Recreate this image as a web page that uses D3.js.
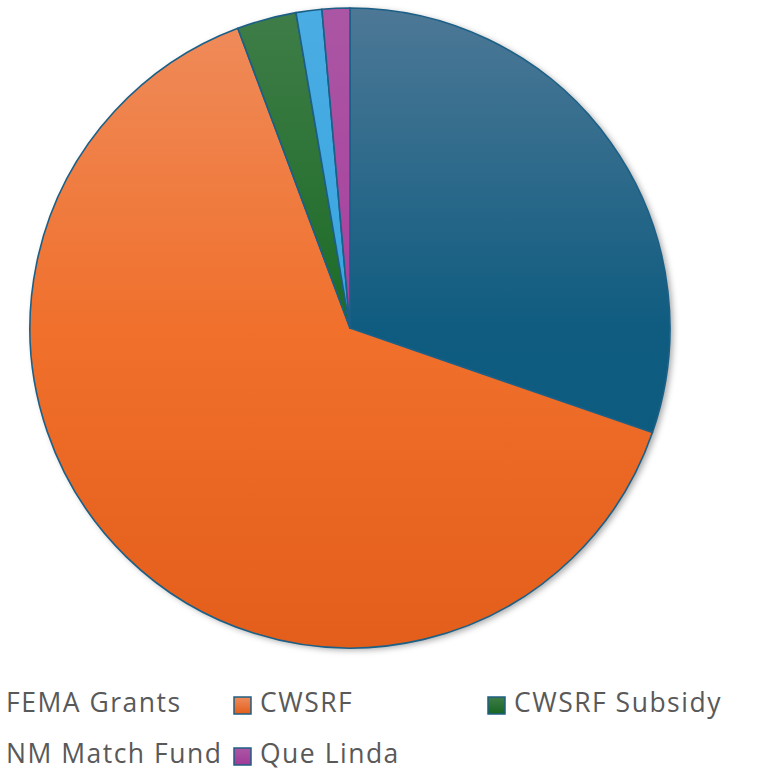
<!DOCTYPE html>
<html><head><meta charset="utf-8">
<script src="https://cdn.jsdelivr.net/npm/d3@7"></script>
<style>html,body{margin:0;padding:0;background:#fff;overflow:hidden}</style>
</head><body>
<svg id="chart" width="759" height="771"></svg>
<script>
const categories = ["FEMA Grants", "CWSRF", "CWSRF Subsidy", "NM Match Fund", "Que Linda"];
const values = [30.3, 64.0, 3.0, 1.3, 1.4];
const topColors = ["#4d7896", "#ef8c5c", "#3f7d48", "#4aade3", "#ab56a4"];
const midColors = ["#0f5c80", "#f0702c", "#1c6b26", "#3aa5e0", "#a8409e"];
const botColors = ["#0c5a80", "#e35e1a", "#166522", "#35a0dc", "#a13a98"];

const svg = d3.select("#chart");
const cx = 350, cy = 328, r = 320;
const defs = svg.append("defs");

const f = defs.append("filter").attr("id","sh").attr("x","-10%").attr("y","-10%").attr("width","120%").attr("height","120%");
f.append("feDropShadow").attr("dx",3).attr("dy",2).attr("stdDeviation",3).attr("flood-color","#000").attr("flood-opacity",0.35);

categories.forEach((c,i)=>{
  const g = defs.append("linearGradient").attr("id","g"+i)
    .attr("gradientUnits","userSpaceOnUse").attr("x1",0).attr("y1",-r).attr("x2",0).attr("y2",r);
  g.append("stop").attr("offset","0").attr("stop-color",topColors[i]);
  g.append("stop").attr("offset","0.5").attr("stop-color",midColors[i]);
  g.append("stop").attr("offset","1").attr("stop-color",botColors[i]);
  const m = defs.append("linearGradient").attr("id","m"+i).attr("x1",0).attr("y1",0).attr("x2",0).attr("y2",1);
  m.append("stop").attr("offset","0").attr("stop-color",topColors[i]);
  m.append("stop").attr("offset","1").attr("stop-color",botColors[i]);
});

const pie = d3.pie().sort(null).value(d=>d.v);
const arc = d3.arc().innerRadius(0).outerRadius(r);
const data = pie(categories.map((c,i)=>({c, v: values[i], i})));

const gp = svg.append("g").attr("transform",`translate(${cx},${cy})`);
gp.append("circle").attr("r",r).attr("fill","#fff").attr("filter","url(#sh)");
gp.selectAll("path").data(data).join("path")
  .attr("d",arc)
  .attr("fill",d=>`url(#g${d.data.i})`)
  .attr("stroke","#1b5f86").attr("stroke-width",1.6).attr("stroke-linejoin","round");

// legend
const colX = [-20, 234, 488];
const rowY = [712, 763];
const leg = svg.append("g");
categories.forEach((c,i)=>{
  const col = i % 3, row = Math.floor(i/3);
  const x = colX[col], y = rowY[row];
  leg.append("rect").attr("x",x).attr("y",y-15).attr("width",17).attr("height",17)
    .attr("fill",`url(#m${i})`).attr("stroke","#1f5f82").attr("stroke-width",1.5);
  leg.append("text").attr("x",x+26).attr("y",y).text(c)
    .attr("font-family","'Open Sans', sans-serif").attr("font-size",26.5)
    .attr("letter-spacing",1.5)
    .attr("fill","#595959");
});
</script>
</body></html>
